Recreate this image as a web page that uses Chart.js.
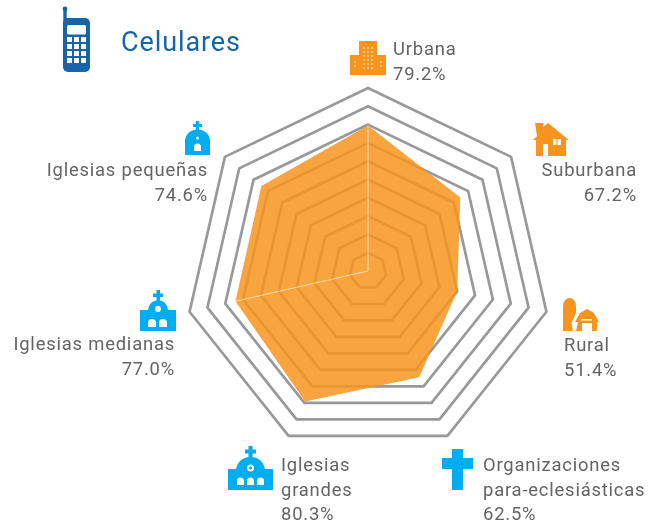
<!DOCTYPE html>
<html lang="es">
<head>
<meta charset="utf-8">
<title>Celulares</title>
<script src="https://cdn.jsdelivr.net/npm/chart.js@4"></script>
<style>
html, body { margin: 0; padding: 0; background: #fff; }
#wrap { position: relative; width: 659px; height: 525px; overflow: hidden; }
canvas { position: absolute; left: 0; top: 0; }
.lbl {
    position: absolute;
    font-family: Roboto, sans-serif;
    font-size: 18.4px;
    line-height: 24.7px;
    letter-spacing: 0.8px;
    color: #636466;
    white-space: nowrap;
}
#title {
    position: absolute; left: 121px; top: 25px;
    font-family: Roboto, sans-serif; font-size: 27px; line-height: 34px;
    letter-spacing: 0.9px; color: #1565a8;
}
svg { position: absolute; }
</style>
</head>
<body>
<div id="wrap">
    <canvas id="myChart" width="659" height="525"></canvas>
    <div id="title">Celulares</div>

    <!-- phone -->
    <svg style="left:62px;top:6px" width="29" height="67" viewBox="0 0 29 67" fill="#1565a8">
        <circle cx="3" cy="3" r="2.4"/><rect x="1.300" y="3" width="3.400" height="14"/>
        <rect x="1" y="12" width="27" height="54" rx="5"/>
        <rect x="5" y="19" width="19" height="9.500" rx="1.500" fill="#fff"/>
        <g fill="#fff">
            <rect x="5" y="31" width="5" height="5"/><rect x="12" y="31" width="5" height="5"/><rect x="19" y="31" width="5" height="5"/>
            <rect x="5" y="38" width="5" height="5"/><rect x="12" y="38" width="5" height="5"/><rect x="19" y="38" width="5" height="5"/>
            <rect x="5" y="45" width="5" height="5"/><rect x="12" y="45" width="5" height="5"/><rect x="19" y="45" width="5" height="5"/>
            <rect x="5" y="52" width="5" height="5"/><rect x="12" y="52" width="5" height="5"/><rect x="19" y="52" width="5" height="5"/>
        </g>
    </svg>

    <!-- urbana -->
    <svg style="left:350px;top:41px" width="36" height="34" viewBox="0 0 36 34" fill="#f7941d">
        <rect x="9" y="0" width="18" height="34"/><rect x="0" y="14" width="36" height="20"/>
        <g stroke="#fbd3a0" stroke-width="1.500" stroke-dasharray="2 2" fill="none">
            <path d="M14 6v22M18 6v22M22 6v22M5 20v8M31 20v8"/>
        </g>
    </svg>

    <!-- suburbana -->
    <svg style="left:532px;top:123px" width="38" height="34" viewBox="0 0 38 34" fill="#f7941d">
        <path d="M3 0h8v4l5-4 21 17h-3v16H4V17H1l4-4z"/>
        <rect x="11" y="21" width="5" height="12" fill="#fff"/>
        <rect x="21" y="16" width="8" height="6" fill="#fff"/><rect x="24.400" y="16" width="1.200" height="6"/>
    </svg>

    <!-- rural -->
    <svg style="left:562px;top:298px" width="37" height="34" viewBox="0 0 37 34" fill="#f7941d">
        <path d="M1 8a6.500 8 0 0 1 13 0V15L9.500 25 11 33H1z"/>
        <path d="M14 33l2-9h-3l5-9 7-4 7 4 5 9h-2v9h-5V25H20v8z"/>
        <rect x="19" y="21" width="11" height="1.500" fill="#fff"/>
    </svg>

    <!-- iglesias pequeñas -->
    <svg style="left:185px;top:121px" width="25" height="34" viewBox="0 0 25 34" fill="#00aeef">
        <rect x="11" y="0" width="3" height="9"/><rect x="8" y="3" width="9" height="3"/>
        <path d="M0 34V19Q1 10 12.500 8 24 10 25 19V34z"/>
        <circle cx="12.500" cy="17" r="1.500" fill="#fff"/>
        <path d="M9 30v-4a3.500 3.500 0 0 1 7 0v4z" fill="#fff"/>
    </svg>

    <!-- iglesias medianas -->
    <svg style="left:140px;top:290px" width="36" height="41" viewBox="0 0 36 41" fill="#00aeef">
        <rect x="16.500" y="0" width="3.500" height="11"/><rect x="13" y="3.500" width="10" height="3.500"/>
        <path d="M0 41V20h8q1-9 10-10 9 1 10 10h8v21z"/>
        <circle cx="18" cy="19" r="3" fill="#fff"/>
        <path d="M8 37v-4a4 4 0 0 1 8 0v4zM19 37v-4a4 4 0 0 1 8 0v4z" fill="#fff"/>
    </svg>

    <!-- iglesias grandes -->
    <svg style="left:228px;top:446px" width="45" height="44" viewBox="0 0 45 44" fill="#00aeef">
        <rect x="20.500" y="0" width="4" height="12"/><rect x="17" y="3.500" width="11" height="4"/>
        <path d="M0 44V23h8q3-12 14.500-12Q34 11 37 23h8v21z"/>
        <circle cx="22.500" cy="22" r="3.500" fill="#fff"/><circle cx="22.500" cy="22" r="1.500"/>
        <path d="M9 39v-4a3.300 3.300 0 0 1 7 0v4zM19 39v-4a3.500 3.500 0 0 1 7 0v4zM29 39v-4a3.300 3.300 0 0 1 7 0v4z" fill="#fff"/>
    </svg>

    <!-- cross -->
    <svg style="left:442px;top:449px" width="31" height="41" viewBox="0 0 31 41" fill="#00aeef">
        <rect x="10" y="0" width="11" height="41"/><rect x="0" y="9" width="31" height="11"/>
    </svg>
</div>

<script>
// printed in the labels
const categories = [
    ['Urbana'],
    ['Suburbana'],
    ['Rural'],
    ['Organizaciones', 'para-eclesiásticas'],
    ['Iglesias', 'grandes'],
    ['Iglesias medianas'],
    ['Iglesias pequeñas']
];
const percentLabels = ['79.2%', '67.2%', '51.4%', '62.5%', '80.3%', '77.0%', '74.6%'];

// read off the drawn polygon, which doesn't quite follow the printed numbers
const drawnValues = [79.5, 64.5, 50, 64.5, 79.2, 74.3, 74.5];

// the only two spokes visible in the picture
const spokeValues = [79.5, 0, 0, 0, 0, 74.3, 0];

const labelPlacement = [
    { left: 393, top: 37 },
    { right: 22, top: 158 },
    { left: 564, top: 333 },
    { left: 483, top: 453 },
    { left: 281, top: 453 },
    { right: 484, top: 332 },
    { right: 451, top: 158 }
];

const wrap = document.getElementById('wrap');
categories.forEach((lines, i) => {
    const div = document.createElement('div');
    div.className = 'lbl';
    const pos = labelPlacement[i];
    div.style.top = pos.top + 'px';
    if (pos.left !== undefined) {
        div.style.left = pos.left + 'px';
    } else {
        div.style.right = pos.right + 'px';
        div.style.textAlign = 'right';
    }
    div.innerHTML = lines.concat(percentLabels[i]).join('<br>');
    wrap.appendChild(div);
});

const ctx = document.getElementById('myChart').getContext('2d');
new Chart(ctx, {
    type: 'radar',
    data: {
        labels: categories.map(lines => lines.join(' ')),
        datasets: [
            {
                label: 'Espigas',
                data: spokeValues,
                borderColor: 'rgba(255, 255, 255, 0.35)',
                borderWidth: 1,
                backgroundColor: 'transparent',
                fill: false,
                pointRadius: 0,
                order: 0
            },
            {
                label: 'Celulares',
                data: drawnValues,
                borderWidth: 0,
                backgroundColor: 'rgba(247, 148, 29, 0.85)',
                fill: true,
                pointRadius: 0,
                order: 1
            }
        ]
    },
    options: {
        responsive: false,
        animation: false,
        layout: { padding: { left: 185, right: 107, top: 88, bottom: 71 } },
        plugins: { legend: { display: false }, tooltip: { enabled: false } },
        scales: {
            r: {
                min: 0,
                max: 100,
                ticks: { stepSize: 10, display: false },
                pointLabels: { display: false },
                angleLines: { display: false },
                grid: { circular: false, color: '#97999b', lineWidth: 2.7 },
                border: { display: false }
            }
        }
    }
});
</script>
</body>
</html>
